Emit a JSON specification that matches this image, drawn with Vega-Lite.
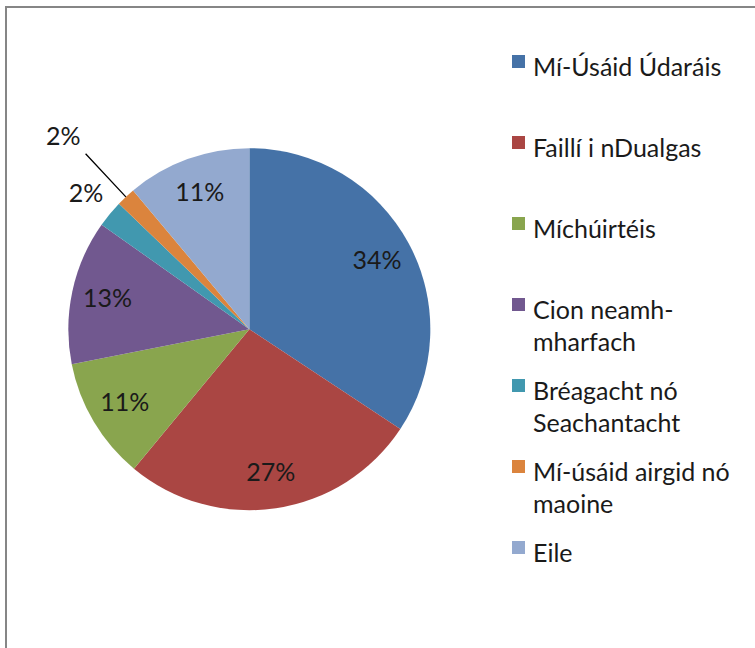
{
  "$schema": "https://vega.github.io/schema/vega-lite/v6.json",
  "autosize": {"type": "fit", "contains": "padding"},
  "width": 755,
  "height": 648,
  "padding": {"left": 6, "top": 7, "right": -6, "bottom": -6},
  "background": "white",
  "view": {"stroke": "#868686", "strokeWidth": 2, "fill": "white"},
  "config": {
    "font": "Lato"
  },
  "data": {
    "values": [
      {"order": 1, "cat": "Mí-Úsáid Údaráis", "value": 0.343},
      {"order": 2, "cat": "Faillí i nDualgas", "value": 0.267},
      {"order": 3, "cat": "Míchúirtéis", "value": 0.109},
      {"order": 4, "cat": "Cion neamh-mharfach", "value": 0.129},
      {"order": 5, "cat": "Bréagacht nó Seachantacht", "value": 0.024},
      {"order": 6, "cat": "Mí-úsáid airgid nó maoine", "value": 0.017},
      {"order": 7, "cat": "Eile", "value": 0.111}
    ]
  },
  "transform": [
    {"stack": "value", "groupby": [], "sort": [{"field": "order", "order": "ascending"}], "as": ["v0", "v1"]},
    {"calculate": "(datum.v0 + datum.v1) / 2", "as": "mid"}
  ],
  "layer": [
    {
      "mark": {"type": "arc", "radius": 181, "x": {"expr": "width * 0.3223"}, "y": {"expr": "height * 0.498"}},
      "encoding": {
        "theta": {"field": "v0", "type": "quantitative", "scale": {"domain": [0, 1]}},
        "theta2": {"field": "v1"},
        "color": {
          "field": "cat",
          "type": "nominal",
          "scale": {
            "domain": ["Mí-Úsáid Údaráis", "Faillí i nDualgas", "Míchúirtéis", "Cion neamh-mharfach", "Bréagacht nó Seachantacht", "Mí-úsáid airgid nó maoine", "Eile"],
            "range": ["#4572A7", "#AA4643", "#89A54E", "#71588F", "#4198AF", "#DB843D", "#93A9CF"]
          },
          "legend": {
            "title": null,
            "orient": "none",
            "legendX": 500,
            "legendY": 42,
            "padding": 0,
            "symbolType": "square",
            "symbolSize": 169,
            "symbolStrokeWidth": 0,
            "labelFont": "Lato",
            "labelFontSize": 25,
            "labelColor": "#1a1a1a",
            "labelLimit": 400,
            "labelOffset": 2,
            "rowPadding": 17,
            "labelExpr": "datum.label == 'Cion neamh-mharfach' ? ['Cion neamh-', 'mharfach'] : datum.label == 'Bréagacht nó Seachantacht' ? ['Bréagacht nó', 'Seachantacht'] : datum.label == 'Mí-úsáid airgid nó maoine' ? ['Mí-úsáid airgid nó', 'maoine'] : [datum.label, '']",
            "labelBaseline": "top",
            "encode": {"labels": {"update": {"lineHeight": {"value": 32}, "dy": {"value": -6}}}}
          }
        },
        "order": {"field": "order"}
      }
    },
    {
      "transform": [{"filter": "datum.value >= 0.05"}],
      "mark": {"type": "text", "radius": 145, "x": {"expr": "width * 0.3223"}, "y": {"expr": "height * 0.498"}, "font": "Lato", "fontSize": 25, "color": "#1a1a1a", "align": "center", "baseline": "middle"},
      "encoding": {
        "theta": {"field": "mid", "type": "quantitative", "scale": {"domain": [0, 1]}},
        "text": {"field": "value", "type": "quantitative", "format": ".0%"}
      }
    },
    {
      "transform": [{"filter": "datum.cat == 'Bréagacht nó Seachantacht'"}],
      "mark": {"type": "text", "radius": 212, "x": {"expr": "width * 0.3223"}, "y": {"expr": "height * 0.498"}, "font": "Lato", "fontSize": 25, "color": "#1a1a1a", "align": "center", "baseline": "middle"},
      "encoding": {
        "theta": {"field": "mid", "type": "quantitative", "scale": {"domain": [0, 1]}},
        "text": {"field": "value", "type": "quantitative", "format": ".0%"}
      }
    },
    {
      "transform": [{"filter": "datum.cat == 'Mí-úsáid airgid nó maoine'"}],
      "mark": {"type": "text", "radius": 267, "x": {"expr": "width * 0.3223"}, "y": {"expr": "height * 0.498"}, "font": "Lato", "fontSize": 25, "color": "#1a1a1a", "align": "center", "baseline": "middle", "dx": -4, "dy": 3},
      "encoding": {
        "theta": {"field": "mid", "type": "quantitative", "scale": {"domain": [0, 1]}},
        "text": {"field": "value", "type": "quantitative", "format": ".0%"}
      }
    },
    {
      "transform": [{"filter": "datum.cat == 'Mí-úsáid airgid nó maoine'"}],
      "mark": {"type": "arc", "radius": 240, "radius2": 181, "x": {"expr": "width * 0.3223"}, "y": {"expr": "height * 0.498"}, "fill": null, "stroke": "black", "strokeWidth": 1.3},
      "encoding": {
        "theta": {"field": "mid", "type": "quantitative", "scale": {"domain": [0, 1]}},
        "theta2": {"field": "mid"}
      }
    }
  ]
}
